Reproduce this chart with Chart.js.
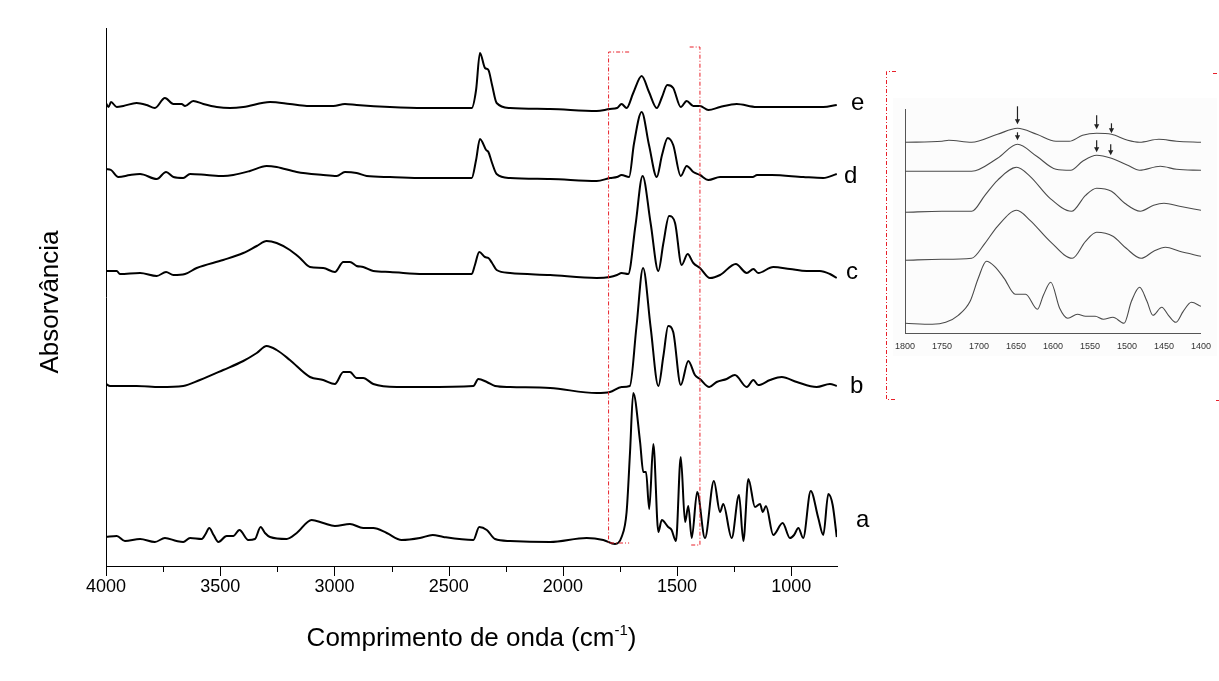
<!DOCTYPE html>
<html><head><meta charset="utf-8">
<script src="https://cdn.jsdelivr.net/npm/chart.js@4.4.1/dist/chart.umd.min.js"></script>
<style>
html,body{margin:0;padding:0;background:#fff;width:1219px;height:681px;overflow:hidden;}
#main{position:absolute;left:0;top:0;}
#inset{position:absolute;left:880px;top:60px;}
</style></head><body>
<canvas id="main" width="1219" height="681"></canvas>
<canvas id="inset" width="339" height="300"></canvas>
<script>
// ---------- Main chart data (wavenumber cm-1, stacked absorbance a.u.) ----------
const wnE = [4000,3989,3978,3953,3924,3866,3822,3786,3742,3705,3669,3654,3618,3574,3515,3457,3399,3282,3195,3121,3005,2954,2903,2757,2611,2399,2380,2363,2341,2326,2310,2290,2231,2056,1852,1794,1763,1743,1721,1692,1655,1623,1589,1566,1543,1517,1484,1458,1429,1400,1363,1312,1239,1152,1006,860,801];
const absE = [4.63,4.59,4.64,4.59,4.60,4.63,4.61,4.58,4.68,4.62,4.62,4.60,4.65,4.62,4.59,4.58,4.59,4.64,4.62,4.60,4.60,4.62,4.61,4.59,4.58,4.58,4.76,5.13,4.98,4.96,4.81,4.63,4.58,4.57,4.55,4.57,4.58,4.62,4.58,4.73,4.90,4.74,4.58,4.69,4.81,4.78,4.59,4.65,4.60,4.60,4.56,4.59,4.62,4.59,4.59,4.59,4.61];

const wnD = [4000,3978,3946,3895,3851,3778,3737,3705,3662,3632,3559,3487,3443,3370,3297,3253,3165,3049,2990,2954,2903,2859,2757,2611,2399,2380,2363,2336,2326,2310,2290,2231,2056,1852,1794,1763,1743,1710,1689,1655,1623,1589,1566,1541,1517,1484,1458,1429,1400,1363,1312,1239,1169,1150,1086,948,860,801];
const absD = [3.97,3.96,3.89,3.91,3.92,3.87,3.94,3.89,3.88,3.92,3.91,3.90,3.91,3.95,4.00,3.99,3.94,3.91,3.90,3.94,3.93,3.90,3.89,3.88,3.88,4.06,4.27,4.16,4.14,4.03,3.92,3.88,3.87,3.85,3.88,3.89,3.91,3.89,4.22,4.54,4.21,3.89,4.11,4.28,4.21,3.90,4.00,3.94,3.91,3.86,3.89,3.89,3.89,3.91,3.91,3.89,3.88,3.92];

const wnC = [4000,3953,3939,3851,3778,3737,3705,3654,3603,3487,3399,3340,3297,3253,3195,3151,3107,3049,2998,2961,2932,2903,2874,2830,2757,2611,2399,2385,2366,2341,2326,2310,2290,2231,2056,1852,1794,1763,1743,1714,1682,1651,1616,1582,1560,1535,1509,1480,1454,1429,1400,1356,1312,1243,1195,1166,1145,1079,1006,933,875,831,801];
const absC = [2.95,2.95,2.92,2.93,2.90,2.94,2.91,2.92,2.98,3.06,3.13,3.20,3.25,3.23,3.16,3.08,2.99,2.98,2.94,3.04,3.04,3.00,2.99,2.95,2.94,2.92,2.92,3.01,3.14,3.09,3.08,3.03,2.96,2.93,2.91,2.88,2.89,2.91,2.93,2.92,3.41,3.90,3.43,2.95,3.23,3.50,3.43,3.01,3.12,3.03,2.98,2.88,2.91,3.02,2.93,2.97,2.93,2.99,2.97,2.95,2.95,2.92,2.88];

const wnB = [4000,3982,3866,3764,3662,3589,3487,3399,3340,3297,3253,3195,3107,3049,2998,2961,2932,2903,2874,2830,2727,2611,2392,2370,2333,2297,2231,2056,1852,1794,1743,1707,1678,1649,1616,1582,1560,1539,1517,1484,1451,1422,1400,1359,1327,1283,1247,1195,1166,1145,1093,1042,976,889,831,801];
const absB = [1.82,1.80,1.80,1.79,1.80,1.86,1.96,2.05,2.13,2.20,2.16,2.06,1.89,1.86,1.82,1.94,1.94,1.88,1.88,1.82,1.79,1.79,1.80,1.87,1.84,1.80,1.79,1.78,1.73,1.74,1.79,1.80,2.39,2.98,2.39,1.80,2.10,2.40,2.34,1.81,2.05,1.91,1.87,1.79,1.84,1.87,1.91,1.79,1.86,1.81,1.86,1.89,1.84,1.79,1.82,1.80];

const wnA = [4000,3953,3917,3851,3786,3742,3691,3662,3632,3581,3564,3548,3529,3508,3472,3443,3416,3377,3348,3323,3304,3282,3209,3165,3100,3049,2998,2932,2874,2830,2771,2706,2626,2570,2523,2392,2366,2333,2297,2231,2056,1896,1823,1772,1743,1721,1706,1692,1662,1648,1636,1622,1604,1582,1567,1539,1524,1505,1484,1465,1451,1436,1412,1378,1339,1312,1298,1261,1229,1210,1188,1159,1137,1125,1111,1079,1038,1006,988,969,948,915,882,860,838,819,801];
const absA = [0.29,0.30,0.25,0.27,0.24,0.28,0.25,0.24,0.28,0.27,0.32,0.38,0.31,0.24,0.30,0.30,0.36,0.26,0.27,0.39,0.33,0.29,0.27,0.33,0.46,0.43,0.40,0.42,0.38,0.38,0.33,0.26,0.28,0.31,0.29,0.26,0.39,0.36,0.27,0.25,0.24,0.28,0.26,0.22,0.29,0.54,1.14,1.73,1.24,0.94,0.94,0.57,1.22,0.34,0.46,0.39,0.36,0.25,1.09,0.44,0.60,0.28,0.74,0.28,0.85,0.54,0.62,0.28,0.71,0.25,0.87,0.59,0.62,0.54,0.60,0.31,0.43,0.28,0.31,0.38,0.28,0.75,0.48,0.31,0.72,0.61,0.29];

const seriesNames = ['a','b','c','d','e'];
const majorTicks = [4000,3500,3000,2500,2000,1500,1000];
const minorTicks = [3750,3250,2750,2250,1750,1250];
const zoomRange = [1800,1400];

// ---------- Inset data (1800-1400 cm-1) ----------
const insWnE = [1800,1750,1741,1710,1675,1648,1622,1596,1578,1560,1541,1521,1499,1483,1457,1433,1400];
const insE = [1.91,1.92,1.93,1.91,1.99,2.05,1.99,1.92,1.92,1.98,2.00,1.99,1.93,1.91,1.94,1.92,1.91];
const insWnD = [1800,1750,1710,1675,1648,1622,1596,1576,1560,1541,1521,1499,1483,1455,1433,1400];
const insD = [1.62,1.62,1.62,1.75,1.89,1.77,1.64,1.63,1.72,1.78,1.75,1.68,1.63,1.67,1.64,1.63];
const insWnC = [1800,1750,1710,1692,1675,1649,1631,1604,1575,1556,1541,1521,1503,1482,1464,1450,1429,1400];
const insC = [1.21,1.22,1.22,1.38,1.53,1.66,1.57,1.35,1.22,1.38,1.45,1.42,1.30,1.22,1.28,1.30,1.27,1.23];
const insWnB = [1800,1750,1710,1692,1675,1649,1631,1604,1574,1556,1541,1519,1501,1481,1464,1448,1429,1400];
const insB = [0.73,0.74,0.75,0.90,1.07,1.23,1.13,0.92,0.75,0.92,1.01,0.97,0.85,0.75,0.82,0.86,0.82,0.77];
const insWnA = [1800,1763,1745,1728,1712,1701,1690,1679,1666,1651,1637,1621,1613,1603,1591,1580,1567,1556,1543,1532,1519,1504,1494,1483,1473,1465,1453,1444,1434,1424,1413,1400];
const insA = [0.10,0.09,0.11,0.18,0.32,0.55,0.72,0.67,0.55,0.39,0.39,0.24,0.38,0.51,0.25,0.15,0.19,0.17,0.17,0.14,0.16,0.10,0.32,0.46,0.32,0.18,0.26,0.18,0.11,0.22,0.31,0.27];
const insetTicks = [1800,1750,1700,1650,1600,1550,1500,1450,1400];
// arrows: wavenumber, start value, tip value
const arrowWn   = [1648,1541,1521,1648,1541,1522];
const arrowFrom = [2.27,2.18,2.10,2.01,1.93,1.89];
const arrowTo   = [2.09,2.04,2.00,1.93,1.81,1.78];

const FONT = "'Liberation Sans', Arial, Helvetica, sans-serif";
const pts = (xs, ys) => xs.map((x, i) => ({x, y: ys[i]}));

function lineDs(xs, ys, color, width) {
  return {data: pts(xs, ys), borderColor: color, borderWidth: width, pointRadius: 0,
          fill: false, cubicInterpolationMode: 'monotone'};
}

function redDash(ctx) {
  ctx.strokeStyle = '#e8202a'; ctx.lineWidth = 1; ctx.setLineDash([4,2,1,2]);
}

const mainDecor = {
  id: 'mainDecor',
  beforeDraw(chart) {
    const ctx = chart.ctx;
    ctx.save();
    ctx.fillStyle = '#fff'; ctx.fillRect(0, 0, chart.width, chart.height);
    ctx.fillStyle = 'rgba(0,0,0,0.012)'; ctx.fillRect(893, 98, 324, 258);
    ctx.restore();
  },
  afterDraw(chart) {
    const {ctx, scales: {x, y}} = chart;
    ctx.save();
    // tick marks
    ctx.strokeStyle = '#000'; ctx.lineWidth = 1;
    majorTicks.forEach(v => { const px = Math.round(x.getPixelForValue(v)) + 0.5;
      ctx.beginPath(); ctx.moveTo(px, y.bottom); ctx.lineTo(px, y.bottom + 10); ctx.stroke(); });
    minorTicks.forEach(v => { const px = Math.round(x.getPixelForValue(v)) + 0.5;
      ctx.beginPath(); ctx.moveTo(px, y.bottom); ctx.lineTo(px, y.bottom + 6); ctx.stroke(); });
    // x title with superscript
    ctx.fillStyle = '#000'; ctx.textBaseline = 'alphabetic'; ctx.textAlign = 'left';
    const t1 = 'Comprimento de onda (cm', t2 = '-1', t3 = ')';
    ctx.font = `26px ${FONT}`; const w1 = ctx.measureText(t1).width, w3 = ctx.measureText(t3).width;
    ctx.font = `15px ${FONT}`; const w2 = ctx.measureText(t2).width;
    const cx = (x.left + x.right) / 2; let sx = cx - (w1 + w2 + w3) / 2; const base = 646;
    ctx.font = `26px ${FONT}`; ctx.fillText(t1, sx, base); sx += w1;
    ctx.font = `15px ${FONT}`; ctx.fillText(t2, sx, base - 11); sx += w2;
    ctx.font = `26px ${FONT}`; ctx.fillText(t3, sx, base);
    // y title
    ctx.save(); ctx.translate(51, 302); ctx.rotate(-Math.PI / 2);
    ctx.textAlign = 'center'; ctx.textBaseline = 'middle'; ctx.font = `26px ${FONT}`;
    ctx.fillText('Absorvância', 0, 0); ctx.restore();
    // series labels
    const labY = [0.39, 1.73, 2.87, 3.83, 4.56];
    const labDx = [19, 13, 9, 7, 14];
    ctx.font = `24px ${FONT}`; ctx.textAlign = 'left'; ctx.textBaseline = 'alphabetic';
    seriesNames.forEach((s, i) => ctx.fillText(s, x.right + labDx[i], y.getPixelForValue(labY[i])));
    // red dash-dot bracket around zoom region
    redDash(ctx);
    const xl = x.getPixelForValue(zoomRange[0]), xr = x.getPixelForValue(zoomRange[1]);
    const xlTab = x.getPixelForValue(1710), xrTab = x.getPixelForValue(1445);
    const yl1 = y.getPixelForValue(5.14), yl2 = y.getPixelForValue(0.23);
    const yr1 = y.getPixelForValue(5.19), yr2 = y.getPixelForValue(0.21);
    ctx.beginPath();
    ctx.moveTo(xlTab, yl1); ctx.lineTo(xl, yl1); ctx.lineTo(xl, yl2); ctx.lineTo(xlTab, yl2);
    ctx.moveTo(xrTab, yr1); ctx.lineTo(xr, yr1); ctx.lineTo(xr, yr2); ctx.lineTo(xrTab, yr2);
    ctx.stroke();
    // bracket around the inset
    ctx.beginPath();
    ctx.moveTo(896, 71.5); ctx.lineTo(886.5, 71.5); ctx.lineTo(886.5, 399.5); ctx.lineTo(896, 399.5);
    ctx.moveTo(1213, 73.5); ctx.lineTo(1219, 73.5);
    ctx.moveTo(1216, 400.5); ctx.lineTo(1219, 400.5);
    ctx.stroke();
    ctx.restore();
  }
};

new Chart(document.getElementById('main'), {
  type: 'line',
  data: { datasets: [
    lineDs(wnA, absA, '#000', 2), lineDs(wnB, absB, '#000', 2), lineDs(wnC, absC, '#000', 2),
    lineDs(wnD, absD, '#000', 2), lineDs(wnE, absE, '#000', 2)
  ]},
  options: {
    responsive: false, animation: false, devicePixelRatio: 1, parsing: false,
    layout: { padding: { left: 0, top: 28, right: 382, bottom: 0 } },
    plugins: { legend: { display: false }, tooltip: { enabled: false } },
    scales: {
      x: { type: 'linear', reverse: true, min: 800, max: 4000,
        afterBuildTicks: s => { s.ticks = majorTicks.map(v => ({value: v})); },
        ticks: { font: { size: 18, family: FONT }, color: '#000', padding: 10, maxRotation: 0, autoSkip: false,
                 callback: v => String(v) },
        grid: { display: false, drawTicks: false },
        border: { display: true, color: '#000', width: 1 },
        afterFit: s => { s.height = 115; } },
      y: { type: 'linear', min: 0, max: 5.38,
        ticks: { display: false }, grid: { display: false, drawTicks: false },
        border: { display: true, color: '#000', width: 1 },
        afterFit: s => { s.width = 106; } }
    }
  },
  plugins: [mainDecor]
});

const insetDecor = {
  id: 'insetDecor',
  afterDraw(chart) {
    const {ctx, scales: {x, y}} = chart;
    ctx.save();
    ctx.strokeStyle = '#222'; ctx.fillStyle = '#222'; ctx.lineWidth = 1.2;
    arrowWn.forEach((w, i) => {
      const px = x.getPixelForValue(w), y0 = y.getPixelForValue(arrowFrom[i]), y1 = y.getPixelForValue(arrowTo[i]);
      ctx.beginPath(); ctx.moveTo(px, y0); ctx.lineTo(px, y1 - 4); ctx.stroke();
      ctx.beginPath(); ctx.moveTo(px - 2.6, y1 - 5); ctx.lineTo(px + 2.6, y1 - 5); ctx.lineTo(px, y1); ctx.closePath(); ctx.fill();
    });
    ctx.restore();
  }
};

new Chart(document.getElementById('inset'), {
  type: 'line',
  data: { datasets: [
    lineDs(insWnA, insA, '#4a4a4a', 1.1), lineDs(insWnB, insB, '#4a4a4a', 1.1), lineDs(insWnC, insC, '#4a4a4a', 1.1),
    lineDs(insWnD, insD, '#4a4a4a', 1.1), lineDs(insWnE, insE, '#4a4a4a', 1.1)
  ]},
  options: {
    responsive: false, animation: false, devicePixelRatio: 1, parsing: false,
    layout: { padding: { left: 0, top: 49.3, right: 10.7, bottom: 0 } },
    plugins: { legend: { display: false }, tooltip: { enabled: false } },
    scales: {
      x: { type: 'linear', reverse: true, min: 1400, max: 1800,
        afterBuildTicks: s => { s.ticks = insetTicks.map(v => ({value: v})); },
        ticks: { font: { size: 9, family: FONT }, color: '#333', padding: 8, maxRotation: 0, autoSkip: false,
                 callback: v => String(v) },
        grid: { display: false, drawTicks: false },
        border: { display: true, color: '#555', width: 1 },
        afterFit: s => { s.height = 26.7; } },
      y: { type: 'linear', min: 0, max: 2.24,
        ticks: { display: false }, grid: { display: false, drawTicks: false },
        border: { display: true, color: '#555', width: 1 },
        afterFit: s => { s.width = 25; } }
    }
  },
  plugins: [insetDecor]
});
</script>
</body></html>
